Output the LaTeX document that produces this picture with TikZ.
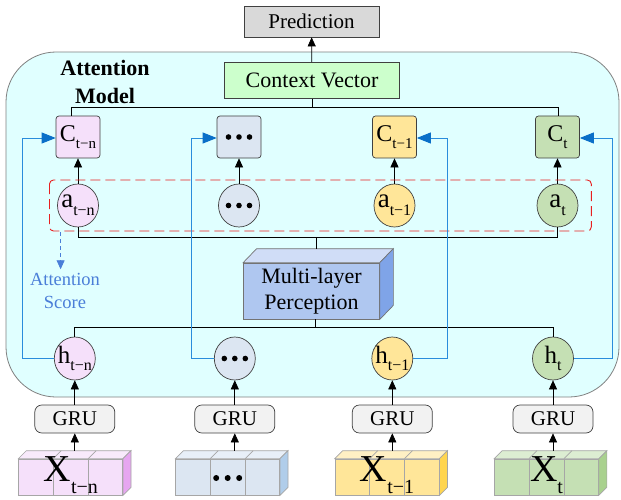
\documentclass[tikz,border=0pt]{standalone}
\usepackage{fontspec}
\setmainfont{Liberation Serif}
\usetikzlibrary{arrows.meta,shapes.geometric,calc}
\definecolor{cyanfill}{HTML}{E0FFFF}
\definecolor{predfill}{HTML}{D9D9D9}
\definecolor{ctxfill}{HTML}{CCFFCC}
\definecolor{pinkF}{HTML}{F5E0FA}
\definecolor{pinkT}{HTML}{F8EAFB}
\definecolor{pinkR}{HTML}{E6A6F0}
\definecolor{blueF}{HTML}{DCE6F2}
\definecolor{blueT}{HTML}{E8EFF8}
\definecolor{blueR}{HTML}{B0CDEA}
\definecolor{yelF}{HTML}{FFE699}
\definecolor{yelT}{HTML}{FFF0C4}
\definecolor{yelR}{HTML}{FFD54F}
\definecolor{grnF}{HTML}{C5E0B4}
\definecolor{grnT}{HTML}{DCEDD2}
\definecolor{grnR}{HTML}{A9D18E}
\definecolor{mlpfront}{HTML}{AFC7F0}
\definecolor{mlptop}{HTML}{D0DDF7}
\definecolor{mlpright}{HTML}{7FA4E8}
\definecolor{grufill}{HTML}{F2F2F2}
\definecolor{blueline}{HTML}{2A8CDC}
\definecolor{bluehead}{HTML}{0A6FC8}
\definecolor{scoreblue}{HTML}{4A7ED8}
\definecolor{reddash}{HTML}{E82020}
\newcommand\fs[1]{\fontsize{#1}{#1}\selectfont}
\newcommand\lsub[2]{\raisebox{-0.3em}{\fontsize{#1}{#1}\selectfont #2}}
\begin{document}
\begin{tikzpicture}[x=1pt,y=-1pt,
  box/.style={draw=black!75, line width=0.7pt, inner sep=0pt, align=center},
  cbox/.style={box, rounded corners=3pt, minimum width=44pt, minimum height=42pt, fill=#1},
  circ/.style={box, ellipse, minimum width=41pt, minimum height=43pt, fill=#1},
  gru/.style={box, rounded corners=7pt, minimum width=80pt, minimum height=28pt, fill=grufill, font=\fs{21}},
  xfront/.style={draw=black!35, line width=0.7pt, inner sep=0pt, minimum width=104pt, minimum height=36pt, fill=#1},
  xedge/.style={draw=black!35, line width=0.7pt},
  arr/.style={-{Triangle[length=9pt,width=8pt]}, line width=0.7pt},
  barr/.style={draw=blueline, line width=0.9pt, -{Triangle[length=14pt,width=11pt,color=bluehead]}},
  link/.style={line width=0.7pt},
  mlpedge/.style={draw=black!55, line width=0.7pt}]
\useasboundingbox (0,0) rectangle (621,500);
% big container
\draw[fill=cyanfill, draw=black!50, line width=0.8pt, rounded corners=50pt] (6,52) rectangle (619,397);

% top
\node[box, fill=predfill, minimum width=135pt, minimum height=31pt, font=\fs{21}] (pred) at (311.5,21.5) {Prediction};
\node[box, fill=ctxfill, minimum width=175pt, minimum height=36pt, font=\fs{22}] (ctx) at (312,80.5) {Context Vector};
\draw[arr] (ctx) -- (pred);
\node[font=\bfseries\fontsize{22}{28}\selectfont, align=center] (am) at (105,82) {Attention\\Model};

% C boxes
\node[cbox=pinkF, font=\fs{24}] (C1) at (78,137) {C\lsub{15}{t−n}};
\node[cbox=blueF] (C2) at (239,137) {};
\node[cbox=yelF, font=\fs{24}] (C3) at (394.5,137) {C\lsub{15}{t−1}};
\node[cbox=grnF, font=\fs{24}] (C4) at (557.5,137) {C\lsub{15}{t}};
\draw[link] (ctx.south) -- ++(0,8.7) coordinate (cj);
\draw[link] ([xshift=-6.7pt]C1.north) |- (cj) -| ([xshift=1pt]C4.north);

% a circles
\node[circ=pinkF, label={[font=\fs{27}]center:a\lsub{16}{t−n}}] (a1) at (78,205.5) {};
\node[circ=blueF] (a2) at (239,205.5) {};
\node[circ=yelF, label={[font=\fs{27}]center:a\lsub{16}{t−1}}] (a3) at (394.5,205.5) {};
\node[circ=grnF, label={[font=\fs{27}]center:a\lsub{16}{t}}] (a4) at (557.5,205.5) {};
\foreach \i in {1,2,3,4} \draw[arr] (a\i) -- (C\i);
\draw[reddash, dash pattern=on 10pt off 5pt, line width=0.9pt, rounded corners=4pt] (49.5,180) rectangle (591.3,231);

% MLP
\node[box, draw=black!55, fill=mlpfront, minimum width=136pt, minimum height=56pt, font=\fontsize{22}{26}\selectfont] (mlp) at (311.5,291) {Multi-layer\\Perception};
\draw[mlpedge, fill=mlptop] (mlp.north west) -- ++(13.5,-14) -- ([shift={(13.5,-14)}]mlp.north east) -- (mlp.north east) -- cycle;
\draw[mlpedge, fill=mlpright] (mlp.north east) -- ++(13.5,-14) -- ([shift={(13.5,-14)}]mlp.south east) -- (mlp.south east) -- cycle;
\coordinate (mlpb) at ([yshift=14pt]mlp.north);
\coordinate (aj) at (316.8,237.3);
\draw[link] (a1.south) |- (aj) -| (a4.south);
\draw[link] (aj) -- (aj |- mlpb);

% attention score
\coordinate (sc1) at (60.6,232);
\node[text=scoreblue, font=\fontsize{18.5}{23}\selectfont, align=center] (score) at (65,290.5) {Attention\\Score};
\draw[scoreblue, line width=0.8pt, dash pattern=on 4pt off 3pt, -{Triangle[length=9pt,width=8pt]}] (sc1) -- (sc1 |- score.north);

% h circles
\node[circ=pinkF, label={[font=\fs{25}]center:h\lsub{16}{t−n}}] (h1) at (74.8,358.5) {};
\node[circ=blueF] (h2) at (234.8,358.5) {};
\node[circ=yelF, label={[font=\fs{25}]center:h\lsub{16}{t−1}}] (h3) at (392.3,358.5) {};
\node[circ=grnF, label={[font=\fs{25}]center:h\lsub{16}{t}}] (h4) at (553,358.5) {};
\draw[link] ([xshift=3.5pt]mlp.south) -- ++(0,8) coordinate (hj);
\draw[link] (h1.north) |- (hj) -| (h4.north);

% blue feedback connectors
\draw[barr] (h1.west) -- ++(-31.7,0) |- ([yshift=-1pt]C1.west);
\draw[barr] (h2.west) -- ++(-23,0) |- ([yshift=-1pt]C2.west);
\draw[barr] (h3.east) -- ++(33.9,0) |- ([yshift=-1pt]C3.east);
\draw[barr] (h4.east) -- ++(38.4,0) |- ([yshift=-1pt]C4.east);

% dots
\foreach \n in {C2,a2,h2} \foreach \d in {-10.5,0,10.5} \fill ($(\n)+(\d,0)$) circle (2.8);

% GRU
\node[gru] (g1) at (74.8,419) {GRU};
\node[gru] (g2) at (234.8,419) {GRU};
\node[gru] (g3) at (392.3,419) {GRU};
\node[gru] (g4) at (553,419) {GRU};
\foreach \i in {1,2,3,4} \draw[arr] (g\i) -- (h\i);

% X blocks
\foreach \n/\cx/\ff/\ft/\fr in {1/70.7/pinkF/pinkT/pinkR, 2/227.7/blueF/blueT/blueR, 3/387.1/yelF/yelT/yelR, 4/546.5/grnF/grnT/grnR} {
  \node[xfront=\ff] (X\n) at (\cx,477) {};
  \draw[xedge, fill=\ft] (X\n.north west) -- ++(8,-8) -- ([shift={(8,-8)}]X\n.north east) -- (X\n.north east) -- cycle;
  \draw[xedge, fill=\fr] (X\n.north east) -- ++(8,-8) -- ([shift={(8,-8)}]X\n.south east) -- (X\n.south east) -- cycle;
  \foreach \k in {1,2} {
    \draw[xedge] ($(X\n.north west)!\k/3!(X\n.north east)$) -- ($(X\n.south west)!\k/3!(X\n.south east)$);
    \draw[xedge] ($(X\n.north west)!\k/3!(X\n.north east)$) -- ++(8,-8);
  }
  \coordinate (X\n t) at ([yshift=8pt]X\n.north);
  \draw[arr] (g\n |- X\n t) -- (g\n);
}
\node[font=\fs{38}] (xt1) at ([yshift=2pt]X1) {X\lsub{20}{t−n}};
\node[font=\fs{38}] (xt3) at ([yshift=2pt]X3) {X\lsub{20}{t−1}};
\node[font=\fs{38}] (xt4) at ([yshift=2pt]X4) {X\lsub{20}{t}};
\foreach \d in {-11.5,0,11.5} \fill ($(X2)+(\d,1)$) circle (3);
\end{tikzpicture}
\end{document}
